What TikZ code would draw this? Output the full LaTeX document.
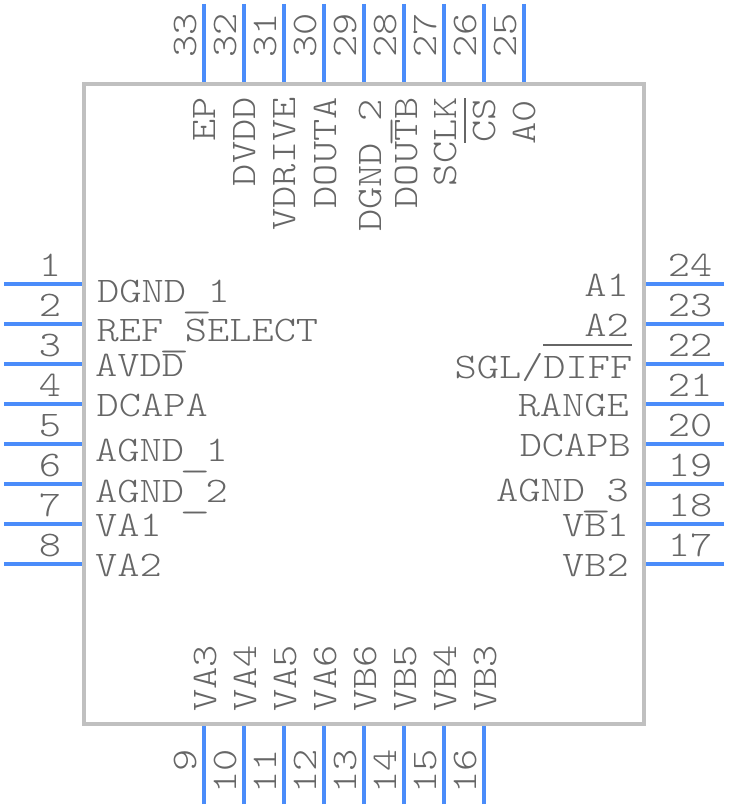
\documentclass[tikz,border=0pt]{standalone}
\usepackage{fontspec}
\usepackage{graphicx}
\setmonofont[FakeStretch=1.175]{Latin Modern Mono Light}
\usepackage{tikz}
\usetikzlibrary{positioning}
\definecolor{pinblue}{HTML}{4A8CFA}
\definecolor{bodygrey}{HTML}{C0C0C0}
\definecolor{textgrey}{HTML}{666666}
\newcommand{\notbar}[2][31pt]{\leavevmode\sbox0{#2}\rlap{\smash{\raise #1\hbox{\rule{\wd0}{1.6pt}}}}\box0}
\newcommand{\lowbar}{\makebox[21.6pt]{\smash{\raisebox{-5.5pt}{\scalebox{1.4}[1]{\_}}}}}
\tikzset{
  pinline/.style={draw=pinblue, line width=4pt},
  pinnum/.style={text=textgrey, inner sep=0pt, font=\fontsize{36}{36}\ttfamily},
  pinname/.style={pinnum},
}

\begin{document}
\begin{tikzpicture}[x=1pt, y=-1pt]
  \useasboundingbox (0,0) rectangle (728,808);

  % Package body
  \node[draw=bodygrey, line width=4pt, minimum width=560pt, minimum height=640pt, inner sep=0pt] (body) at (364,404) {};

  % Left pins
  \foreach \n [evaluate=\n as \py using int(244+40*\n)] in {1,...,8} {
    \coordinate (pin\n) at (4,\py);
    \draw[pinline] (pin\n) -- (pin\n -| body.west);
    \node[pinnum, anchor=base] (num\n) at (50,\py-8) {\n};
  }

  % Right pins
  \foreach \n [evaluate=\n as \py using int(284+40*(24-\n))] in {24,...,17} {
    \coordinate (pin\n) at (724,\py);
    \draw[pinline] (pin\n) -- (pin\n -| body.east);
    \node[pinnum, anchor=base] (num\n) at (690,\py-8) {\n};
  }

  % Top pins
  \foreach \n [evaluate=\n as \px using int(204+40*(33-\n))] in {33,...,25} {
    \coordinate (pin\n) at (\px,4);
    \draw[pinline] (pin\n) -- (pin\n |- body.north);
    \node[pinnum, rotate=90, anchor=base west] (num\n) at (\px-8,58) {\n};
  }

  % Bottom pins
  \foreach \n [evaluate=\n as \px using int(204+40*(\n-9))] in {9,...,16} {
    \coordinate (pin\n) at (\px,804);
    \draw[pinline] (pin\n) -- (pin\n |- body.south);
    \node[pinnum, rotate=90, anchor=base east] (num\n) at (\px-8,749) {\n};
  }

  % Left names
  \foreach \txt/\px/\py [count=\i] in {DGND\lowbar 1/97/302, REF\lowbar SELECT/96.5/341, AVDD/95/376, DCAPA/96.5/416, AGND\lowbar 1/95/461, AGND\lowbar 2/95/502, VA1/95/536, VA2/95/576} {
    \node[pinname, anchor=base west] (lname\i) at (\px,\py) {\txt};
  }

  % Right names
  \foreach \txt/\px/\py [count=\i] in {A1/629/296, A2/629/336, {SGL/\notbar[32pt]{DIFF}}/632.5/378, RANGE/629/416, DCAPB/631/456, AGND\lowbar 3/629/501, VB1/629/536, VB2/629/576} {
    \node[pinname, anchor=base east] (rname\i) at (\px,\py) {\txt};
  }

  % Top names
  \foreach \txt/\px/\py [count=\i] in {EP/215/97, DVDD/255/97, VDRIVE/295/97, DOUTA/336/97, DGND\lowbar 2/381/99, DOUTB/417/97, SCLK/456/97, {\notbar[29pt]{CS}}/495/98, A0/535/100} {
    \node[pinname, rotate=90, anchor=base east] (tname\i) at (\px,\py) {\txt};
  }

  % Bottom names
  \foreach \txt/\px [count=\i] in {VA3/216, VA4/256, VA5/296, VA6/336, VB6/376, VB5/416, VB4/456, VB3/496} {
    \node[pinname, rotate=90, anchor=base west] (bname\i) at (\px,712) {\txt};
  }
\end{tikzpicture}
\end{document}
